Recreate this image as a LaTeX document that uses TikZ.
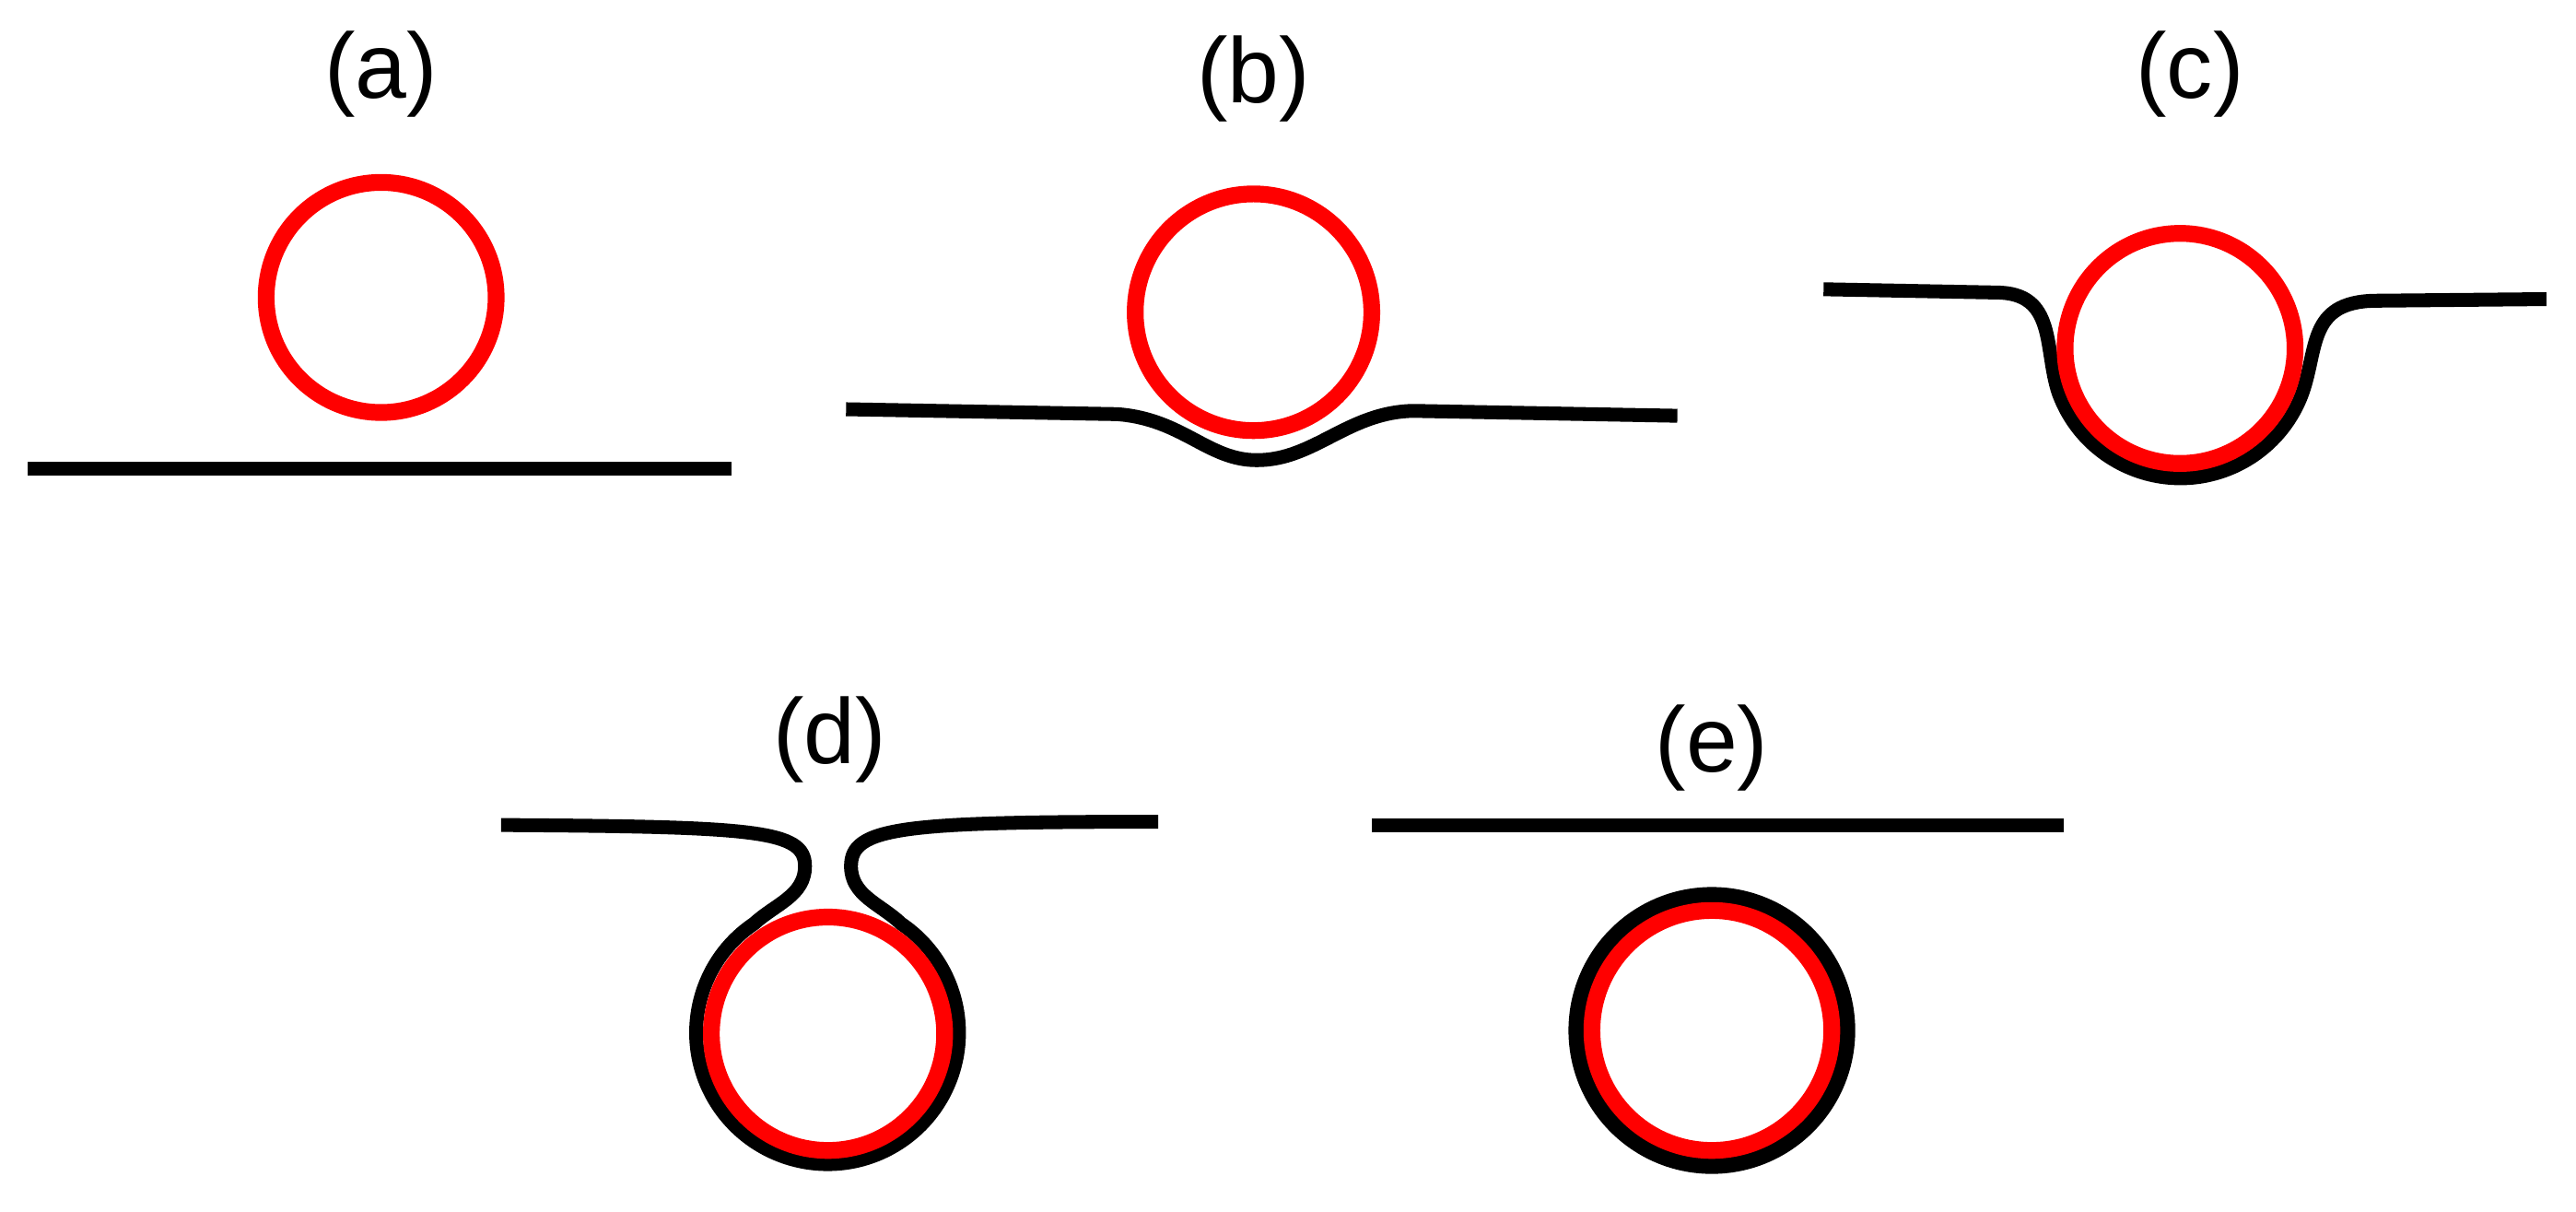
\documentclass[tikz,border=0pt]{standalone}
\usepackage{fontspec}
\setmainfont{Liberation Sans}
\begin{document}
\begin{tikzpicture}[x=0.01cm,y=-0.01cm,
  ves/.style={draw=red,line width=2.9pt},
  mem/.style={draw=black,line width=2.4pt,line join=round},
  lab/.style={font=\fontsize{16}{20}\selectfont}]
\useasboundingbox (0,0) rectangle (1568,737);
% (a)
\node[lab] (la) at (232,45) {(a)};
\draw[ves] (232,181) circle (70);
\draw[mem] (17,285) -- (445,285);
% (b)
\node[lab] (lb) at (763,48) {(b)};
\draw[mem] (515,249) -- (680,252) .. controls (720,255) and (735,280) .. (765,280)
  .. controls (800,280) and (820,251) .. (860,250) -- (1021,253);
\draw[ves] (763,190) circle (72);
% (c)
\node[lab] (lc) at (1333,45) {(c)};
\draw[mem] (1110,176) -- (1215,178) .. controls (1252,178) and (1244,212) .. (1253,239)
  arc (160:20:79) .. controls (1411,212) and (1405,184) .. (1445,183) -- (1550,182);
\draw[ves] (1327,212) circle (70);
% (d)
\node[lab] (ld) at (505,450) {(d)};
\draw[mem] (305,502) .. controls (460,503) and (490,505) .. (490,527)
  .. controls (490,545) and (472,550) .. (459,562)
  arc (236:-56:80)
  .. controls (536,550) and (518,545) .. (518,527)
  .. controls (518,503) and (550,500) .. (705,500);
\draw[ves] (504,629) circle (71);
% (e)
\node[lab] (le) at (1042,455) {(e)};
\draw[mem] (835,502) -- (1256,502);
\draw[draw=black,line width=3pt] (1042,627) circle (82);
\draw[ves] (1042,627) circle (73);
\end{tikzpicture}
\end{document}
